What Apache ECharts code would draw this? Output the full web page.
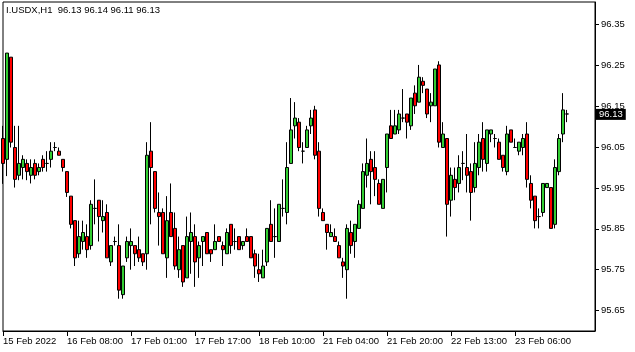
<!DOCTYPE html>
<html>
<head>
<meta charset="utf-8">
<script src="https://cdn.jsdelivr.net/npm/echarts@6/dist/echarts.min.js"></script>
<style>
html, body { margin: 0; padding: 0; background: #fff; }
#chart { width: 635px; height: 352px; }
</style>
</head>
<body>
<div id="chart"></div>
<script>
// I.USDX H1, values
const symbol = 'I.USDX,H1'
const opens = [
  96.071, 96.020, 96.270, 96.049, 95.981, 96.000, 96.010, 95.981, 96.010, 95.990,
  96.020, 96.010, 96.020, 96.049, 96.040, 96.020, 95.990, 95.930, 95.870, 95.789,
  95.819, 95.831, 95.809, 95.900, 95.920, 95.870, 95.890, 95.769, 95.819, 95.809,
  95.689, 95.779, 95.809, 95.809, 95.799, 95.789, 95.789, 96.040, 95.990, 95.890,
  95.890, 95.779, 95.890, 95.851, 95.750, 95.809, 95.730, 95.819, 95.831, 95.779,
  95.819, 95.841, 95.799, 95.799, 95.831, 95.809, 95.789, 95.861, 95.819, 95.831,
  95.809, 95.831, 95.831, 95.789, 95.750, 95.730, 95.769, 95.861, 95.831, 95.819,
  95.900, 95.890, 96.010, 96.102, 96.111, 96.040, 96.049, 96.102, 96.141, 96.040,
  95.890, 95.861, 95.831, 95.831, 95.809, 95.769, 95.750, 95.841, 95.819, 95.851,
  95.900, 95.981, 96.020, 96.000, 95.961, 95.900, 96.000, 96.102, 96.082, 96.092,
  96.121, 96.131, 96.102, 96.182, 96.160, 96.211, 96.192, 96.151, 96.151, 96.251,
  96.049, 96.071, 95.920, 95.971, 95.961, 96.010, 96.000, 95.990, 95.951, 96.000,
  96.071, 96.010, 96.082, 96.071, 96.062, 96.030, 95.990, 96.092, 96.049, 96.040,
  96.049, 96.082, 95.961, 95.930, 95.880, 95.890, 95.951, 95.951, 95.861, 95.990,
  96.082, 96.131
]
const highs = [
  96.102, 96.280, 96.270, 96.102, 96.102, 96.030, 96.020, 96.020, 96.020, 96.010,
  96.030, 96.040, 96.062, 96.062, 96.049, 96.020, 95.990, 95.930, 95.870, 95.870,
  95.870, 95.861, 95.920, 95.971, 95.920, 95.920, 95.910, 95.809, 95.831, 95.861,
  95.759, 95.831, 95.851, 95.809, 95.831, 95.789, 96.062, 96.111, 95.990, 95.939,
  95.900, 95.930, 95.961, 95.890, 95.831, 95.809, 95.880, 95.890, 95.861, 95.819,
  95.831, 95.841, 95.799, 95.861, 95.831, 95.819, 95.851, 95.861, 95.851, 95.831,
  95.819, 95.851, 95.831, 95.799, 95.789, 95.799, 95.851, 95.920, 95.900, 95.910,
  95.971, 96.062, 96.170, 96.160, 96.121, 96.062, 96.102, 96.141, 96.151, 96.062,
  95.900, 95.861, 95.861, 95.851, 95.819, 95.779, 95.861, 95.870, 95.861, 95.920,
  96.010, 96.071, 96.040, 96.040, 95.971, 95.971, 96.082, 96.141, 96.141, 96.141,
  96.192, 96.131, 96.170, 96.201, 96.251, 96.221, 96.192, 96.182, 96.241, 96.260,
  96.111, 96.071, 96.000, 96.000, 96.030, 96.040, 96.082, 96.010, 96.062, 96.082,
  96.111, 96.092, 96.092, 96.082, 96.071, 96.030, 96.102, 96.092, 96.071, 96.062,
  96.082, 96.111, 95.981, 95.930, 95.900, 95.961, 95.961, 95.951, 96.020, 96.082,
  96.182, 96.141
]
const lows = [
  95.960, 95.979, 96.049, 95.951, 95.969, 95.971, 95.969, 95.961, 95.971, 95.981,
  95.990, 95.990, 96.000, 96.040, 96.030, 95.990, 95.928, 95.851, 95.759, 95.779,
  95.799, 95.779, 95.799, 95.861, 95.819, 95.841, 95.779, 95.759, 95.809, 95.679,
  95.679, 95.769, 95.750, 95.759, 95.769, 95.759, 95.750, 95.861, 95.890, 95.809,
  95.789, 95.730, 95.831, 95.750, 95.730, 95.708, 95.730, 95.740, 95.708, 95.730,
  95.759, 95.789, 95.769, 95.799, 95.819, 95.759, 95.789, 95.789, 95.799, 95.799,
  95.799, 95.819, 95.779, 95.730, 95.720, 95.730, 95.759, 95.819, 95.779, 95.819,
  95.880, 95.861, 96.010, 96.071, 96.040, 96.010, 96.049, 96.082, 96.020, 95.880,
  95.870, 95.799, 95.831, 95.819, 95.779, 95.730, 95.679, 95.789, 95.779, 95.851,
  95.900, 95.951, 95.910, 95.930, 95.910, 95.900, 95.939, 96.071, 96.082, 96.082,
  96.111, 96.071, 96.092, 96.131, 96.160, 96.182, 96.121, 96.111, 96.151, 96.049,
  96.049, 95.831, 95.880, 95.920, 95.939, 95.969, 95.939, 95.870, 95.939, 95.981,
  95.990, 95.990, 96.062, 96.049, 96.020, 95.990, 95.981, 96.062, 96.049, 96.030,
  96.030, 95.951, 95.900, 95.851, 95.851, 95.880, 95.951, 95.851, 95.851, 95.981,
  96.062, 96.111
]
const closes = [
  96.010, 96.280, 96.062, 95.971, 96.010, 96.020, 95.990, 96.000, 95.981, 96.000,
  96.000, 96.010, 96.040, 96.049, 96.030, 96.000, 95.939, 95.861, 95.779, 95.831,
  95.841, 95.799, 95.910, 95.900, 95.880, 95.880, 95.779, 95.809, 95.819, 95.700,
  95.759, 95.819, 95.819, 95.789, 95.779, 95.769, 96.030, 96.000, 95.900, 95.880,
  95.789, 95.870, 95.831, 95.759, 95.799, 95.720, 95.831, 95.841, 95.769, 95.809,
  95.831, 95.789, 95.789, 95.819, 95.819, 95.799, 95.841, 95.809, 95.819, 95.799,
  95.819, 95.819, 95.779, 95.759, 95.740, 95.759, 95.851, 95.819, 95.831, 95.910,
  95.900, 96.000, 96.092, 96.121, 96.049, 96.040, 96.092, 96.121, 96.030, 95.900,
  95.870, 95.841, 95.841, 95.819, 95.779, 95.759, 95.851, 95.809, 95.861, 95.910,
  95.990, 96.010, 95.990, 95.971, 95.910, 95.971, 96.082, 96.071, 96.102, 96.131,
  96.121, 96.111, 96.170, 96.151, 96.221, 96.201, 96.131, 96.160, 96.241, 96.062,
  96.082, 95.910, 95.981, 95.951, 96.000, 96.010, 95.981, 95.939, 96.010, 96.062,
  96.020, 96.092, 96.092, 96.071, 96.020, 96.000, 96.082, 96.062, 96.049, 96.062,
  96.071, 95.971, 95.920, 95.870, 95.880, 95.961, 95.961, 95.851, 96.000, 96.071,
  96.141, 96.131
]
// time labels, one every 16 bars
const tickLabels = ['15 Feb 2022', '16 Feb 08:00', '17 Feb 01:00', '17 Feb 17:00', '18 Feb 10:00',
  '21 Feb 04:00', '21 Feb 20:00', '22 Feb 13:00', '23 Feb 06:00']
const tickStep = 16
const priceTicks = [95.65, 95.75, 95.85, 95.95, 96.05, 96.15, 96.25, 96.35]
const emptyBars = 7 // chart shift on the right

const n = opens.length
let cats = []
for (let i = 0; i < n + emptyBars; i++) cats.push(String(i))
let candles = []
for (let i = 0; i < n; i++) candles.push([opens[i], closes[i], lows[i], highs[i]])

const last = n - 1
const fmt = v => v.toFixed(2)
const head = symbol + '  ' + [opens[last], highs[last], lows[last], closes[last]].map(fmt).join(' ')
const font = 'Liberation Sans, Arial, sans-serif'
const fs = 9.5
const isTick = i => i % tickStep === 0 && i / tickStep < tickLabels.length

let chart = echarts.init(document.getElementById('chart'))
chart.setOption({
  animation: false,
  backgroundColor: '#fff',
  title: {
    text: head,
    left: 6,
    top: 5,
    padding: 0,
    textStyle: { fontSize: fs, fontWeight: 'normal', color: '#000', fontFamily: font }
  },
  grid: {
    left: 2,
    top: 2,
    right: 40,
    bottom: 21,
    show: true,
    borderColor: '#000',
    borderWidth: 1
  },
  xAxis: {
    type: 'category',
    data: cats,
    boundaryGap: false,
    axisLine: { lineStyle: { color: '#000' } },
    axisTick: { interval: i => isTick(i), length: 5, lineStyle: { color: '#000' } },
    axisLabel: {
      interval: i => isTick(i),
      formatter: (v, i) => tickLabels[i / tickStep],
      align: 'left',
      margin: 5,
      color: '#000',
      fontSize: fs,
      fontFamily: font
    },
    splitLine: { show: false }
  },
  yAxis: {
    type: 'value',
    position: 'right',
    min: 95.6,
    max: 96.405,
    scale: true,
    axisLine: { show: true, lineStyle: { color: '#000' } },
    axisTick: { show: true, customValues: priceTicks, length: 4, lineStyle: { color: '#000' } },
    axisLabel: {
      customValues: priceTicks,
      formatter: v => fmt(v),
      margin: 6,
      color: '#000',
      fontSize: fs,
      fontFamily: font
    },
    splitLine: { show: false }
  },
  series: [{
    type: 'candlestick',
    data: candles,
    barWidth: 3,
    itemStyle: {
      color: '#32cd32',
      color0: '#ff0000',
      borderColor: '#000',
      borderColor0: '#000',
      borderWidth: 1
    },
    markLine: {
      silent: true,
      symbol: 'none',
      lineStyle: { color: 'rgba(0,0,0,0)', width: 0, type: 'solid' },
      label: {
        show: true,
        position: 'end',
        distance: 1,
        formatter: p => fmt(p.value),
        backgroundColor: '#000',
        color: '#fff',
        opacity: 1,
        padding: [1, 3, 0, 3],
        fontSize: fs,
        fontFamily: font
      },
      emphasis: { disabled: true },
      data: [{ yAxis: closes[last] }]
    }
  }]
})
</script>
</body>
</html>
